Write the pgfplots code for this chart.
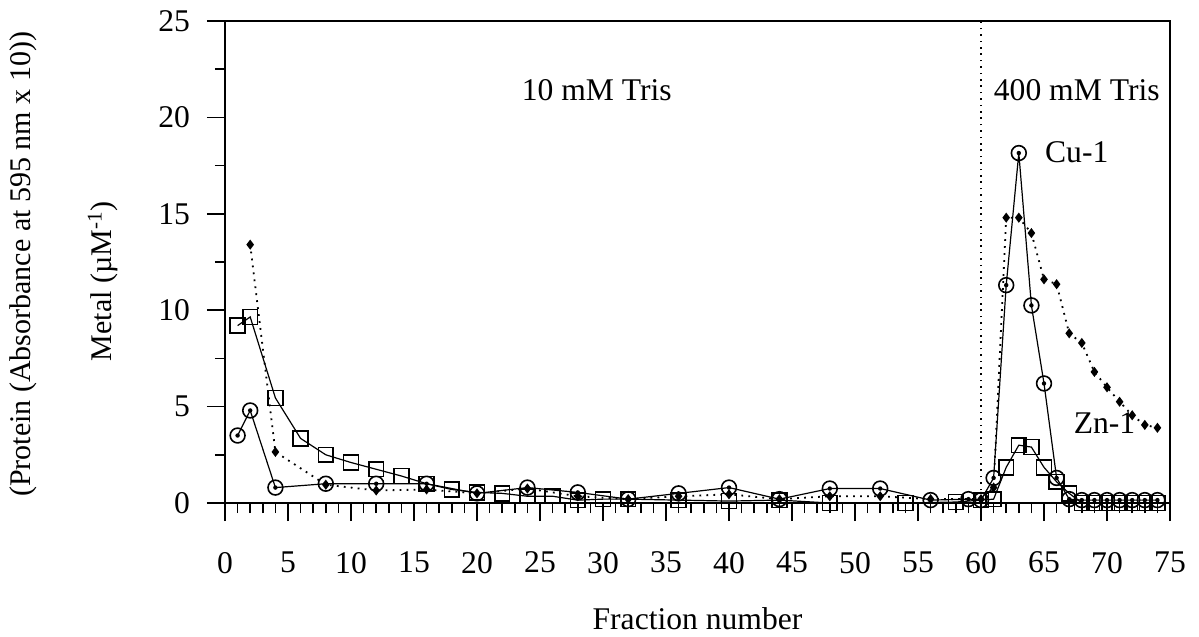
\documentclass[border=0pt]{standalone}
\usepackage{fontspec}
\setmainfont{Liberation Serif}
\usepackage{pgfplots}
\pgfplotsset{compat=1.18}

% circle with a dot in the middle
\pgfdeclareplotmark{odot}{%
  \pgfpathcircle{\pgfpointorigin}{\pgfplotmarksize}\pgfusepathqstroke
  \pgfpathcircle{\pgfpointorigin}{0.3\pgfplotmarksize}\pgfusepathqfill}

\newcommand{\lbl}{\fontsize{15.8}{19}\selectfont}
\newcommand{\ylbl}{\fontsize{15}{18}\selectfont}

\begin{document}
\begin{tikzpicture}
\begin{axis}[
  scale only axis, width=472.5pt, height=241pt,
  xmin=0, xmax=75, ymin=0, ymax=25,
  xtick={0,5,...,75}, ytick={0,5,...,25},
  minor x tick num=4, minor y tick num=1,
  xtick pos=bottom, ytick pos=left,
  tick align=outside,
  major tick length=9pt, minor tick length=5pt,
  every tick/.style={black, line width=0.8pt},
  axis line style={line width=1pt},
  /pgf/number format/assume math mode=true,
  ticklabel style={font=\lbl},
  xticklabel style={yshift=-12pt},
  yticklabel style={xshift=-5pt},
  xlabel={Fraction number}, xlabel style={font=\lbl, yshift=-10pt},
  clip=false,
]
% protein (squares)
\addplot[black, line width=0.6pt, mark=square, mark size=3.7pt, mark options={solid, line width=0.8pt}] coordinates {
 (1,9.2) (2,9.65) (4,5.45) (6,3.35) (8,2.5) (10,2.1) (12,1.75) (14,1.4) (16,1.0)
 (18,0.7) (20,0.55) (22,0.5) (24,0.35) (26,0.35) (28,0.15) (30,0.2) (32,0.2)
 (36,0.15) (40,0.1) (44,0.15) (48,0.0) (54,0.0) (58,0.05) (60,0.15)
 (61,0.2) (62,1.85) (63,3.0) (64,2.9) (65,1.85) (66,1.1) (67,0.5)
 (68,0.0) (69,0.0) (70,0.0) (71,0.0) (72,0.0) (73,0.0) (74,0.0)
};
% Cu-1 (circles)
\addplot[black, line width=0.6pt, mark=odot, mark size=3.7pt, mark options={solid, line width=0.8pt}] coordinates {
 (1,3.5) (2,4.8) (4,0.8) (8,1.0) (12,1.0) (16,1.0) (20,0.5) (24,0.8) (28,0.55)
 (32,0.2) (36,0.5) (40,0.8) (44,0.2) (48,0.75) (52,0.75) (56,0.15) (59,0.2)
 (60,0.15) (61,1.3) (62,11.3) (63,18.15) (64,10.25) (65,6.2) (66,1.3) (67,0.2)
 (68,0.15) (69,0.15) (70,0.15) (71,0.15) (72,0.15) (73,0.15) (74,0.15)
};
% Zn-1 (diamonds, dotted)
\addplot[black, line width=0.9pt, dash pattern=on 0.9pt off 2.6pt, mark=diamond*, mark size=1.8pt, mark options={solid}] coordinates {
 (2,13.4) (4,2.65) (8,0.95) (12,0.65) (16,0.7) (20,0.5) (24,0.75) (28,0.35)
 (32,0.2) (36,0.35) (40,0.45) (44,0.2) (48,0.35) (52,0.35) (56,0.2) (60,0.2)
 (61,0.8) (62,14.8) (63,14.8) (64,14.0) (65,11.6) (66,11.35) (67,8.8) (68,8.3)
 (69,6.8) (70,6.0) (71,5.25) (72,4.55) (73,4.05) (74,3.9)
};
% buffer change
\draw[line width=0.8pt, dash pattern=on 0.8pt off 2.4pt] (axis cs:60,0) -- (axis cs:60,25);
\node[font=\lbl] at (axis cs:29.5,21.4) {10 mM Tris};
\node[font=\lbl] at (axis cs:67.6,21.4) {400 mM Tris};
\node[font=\lbl] at (axis cs:67.6,18.2) {Cu-1};
\node[font=\lbl] at (axis cs:69.8,4.15) {Zn-1};
\node[font=\ylbl, rotate=90] at ([xshift=-61pt]rel axis cs:0,0.46) {Metal (µM\textsuperscript{-1})};
\node[font=\ylbl, rotate=90] at ([xshift=-101pt]rel axis cs:0,0.495) {(Protein (Absorbance at 595 nm x 10))};
\path ([xshift=-112.5pt, yshift=-66pt]rel axis cs:0,0) rectangle ([xshift=14.5pt, yshift=10.5pt]rel axis cs:1,1);
\end{axis}
\end{tikzpicture}
\end{document}
